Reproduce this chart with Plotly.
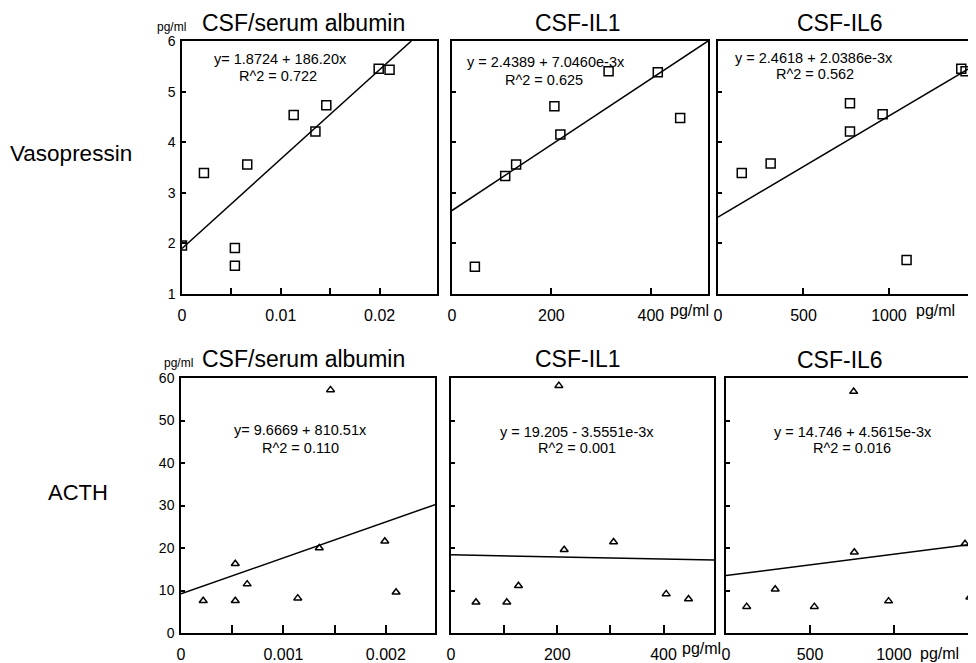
import plotly.graph_objects as go

# ---------------- data ----------------
row_labels = ["Vasopressin", "ACTH"]
col_titles = ["CSF/serum albumin", "CSF-IL1", "CSF-IL6"]

# Vasopressin vs CSF/serum albumin
vp_alb_x = [0.0, 0.00222, 0.00535, 0.00535, 0.0066, 0.0113, 0.0135, 0.0146, 0.0199, 0.0210]
vp_alb_y = [1.96, 3.39, 1.91, 1.56, 3.56, 4.54, 4.21, 4.73, 5.45, 5.43]
# Vasopressin vs CSF-IL1
vp_il1_x = [46, 107, 129, 206, 218, 315, 414, 459]
vp_il1_y = [1.54, 3.33, 3.56, 4.71, 4.15, 5.40, 5.38, 4.48]
# Vasopressin vs CSF-IL6
vp_il6_x = [139, 308, 772, 772, 963, 1103, 1423, 1448]
vp_il6_y = [3.39, 3.58, 4.77, 4.21, 4.55, 1.67, 5.45, 5.40]

# ACTH vs CSF/serum albumin
acth_alb_x = [0.000217, 0.00053, 0.00053, 0.000646, 0.00114, 0.00135, 0.00146, 0.00199, 0.0021]
acth_alb_y = [7.6, 16.3, 7.6, 11.5, 8.2, 20.0, 57.2, 21.6, 9.6]
# ACTH vs CSF-IL1
acth_il1_x = [47, 105, 127, 203, 213, 306, 405, 447]
acth_il1_y = [7.25, 7.25, 11.1, 58.2, 19.6, 21.4, 9.2, 8.0]
# ACTH vs CSF-IL6
acth_il6_x = [123, 293, 526, 760, 764, 968, 1423, 1452]
acth_il6_y = [6.2, 10.3, 6.2, 56.8, 19.0, 7.5, 21.0, 8.4]

# regression lines as drawn (end points)
fit_vp_alb = ([0, 0.0232], [1.90, 6.0])
fit_vp_il1 = ([0, 515], [2.65, 6.0])
fit_vp_il6 = ([0, 1556], [2.52, 5.63])
fit_acth_alb = ([0, 0.00248], [9.2, 30.2])
fit_acth_il1 = ([0, 495], [18.4, 17.2])
fit_acth_il6 = ([0, 1536], [13.5, 21.24])

equations = [
    ["y= 1.8724 + 186.20x", "y = 2.4389 + 7.0460e-3x", "y = 2.4618 + 2.0386e-3x"],
    ["y= 9.6669 + 810.51x", "y = 19.205 - 3.5551e-3x", "y = 14.746 + 4.5615e-3x"],
]
r2_texts = [
    ["R^2 = 0.722", "R^2 = 0.625", "R^2 = 0.562"],
    ["R^2 = 0.110", "R^2 = 0.001", "R^2 = 0.016"],
]

# tick values / labels
vp_y_ticks = [1, 2, 3, 4, 5, 6]
acth_y_ticks = [0, 10, 20, 30, 40, 50, 60]
alb_vp_xticks = [0, 0.005, 0.01, 0.015, 0.02]
alb_vp_xtext = ["0", "", "0.01", "", "0.02"]
alb_acth_xticks = [0, 0.0005, 0.001, 0.0015, 0.002]
alb_acth_xtext = ["0", "", "0.001", "", "0.002"]
il1_vp_xticks = [0, 200, 400]
il1_vp_xtext = ["0", "200", "400"]
il1_acth_xticks = [0, 100, 200, 300, 400]
il1_acth_xtext = ["0", "", "200", "", "400"]
il6_xticks = [0, 500, 1000]
il6_xtext = ["0", "500", "1000"]

# ---------------- layout helpers ----------------
W, H = 976, 663
OFF = 8  # page body margin: the figure is drawn 8 px right/down in the window
FONT = "Liberation Sans, Arial, Helvetica, sans-serif"


def fx(p):
    return (p - OFF) / W


def fy(p):
    return 1 - (p - OFF) / H


panels = [
    dict(r=0, c=0, x=vp_alb_x, y=vp_alb_y, fit=fit_vp_alb, xd=(182, 437), yd=(41, 294),
         xr=[0, 0.0258], yr=[1, 6], xt=alb_vp_xticks, xtt=alb_vp_xtext, yt=vp_y_ticks, right=False),
    dict(r=0, c=1, x=vp_il1_x, y=vp_il1_y, fit=fit_vp_il1, xd=(452, 708), yd=(41, 294),
         xr=[0, 515], yr=[1, 6], xt=il1_vp_xticks, xtt=il1_vp_xtext, yt=vp_y_ticks[1:-1], right=False),
    dict(r=0, c=2, x=vp_il6_x, y=vp_il6_y, fit=fit_vp_il6, xd=(718, 984), yd=(41, 294),
         xr=[0, 1556], yr=[1, 6], xt=il6_xticks, xtt=il6_xtext, yt=vp_y_ticks[1:-1], right=True),
    dict(r=1, c=0, x=acth_alb_x, y=acth_alb_y, fit=fit_acth_alb, xd=(181, 435), yd=(378, 633),
         xr=[0, 0.00248], yr=[0, 60], xt=alb_acth_xticks, xtt=alb_acth_xtext, yt=acth_y_ticks, right=False),
    dict(r=1, c=1, x=acth_il1_x, y=acth_il1_y, fit=fit_acth_il1, xd=(451, 714), yd=(378, 633),
         xr=[0, 495], yr=[0, 60], xt=il1_acth_xticks, xtt=il1_acth_xtext, yt=acth_y_ticks[1:-1], right=False),
    dict(r=1, c=2, x=acth_il6_x, y=acth_il6_y, fit=fit_acth_il6, xd=(726, 984), yd=(378, 633),
         xr=[0, 1536], yr=[0, 60], xt=il6_xticks, xtt=il6_xtext, yt=acth_y_ticks[1:-1], right=True),
]

fig = go.Figure()
layout = {}

for i, p in enumerate(panels, start=1):
    xa = "x" if i == 1 else f"x{i}"
    ya = "y" if i == 1 else f"y{i}"
    symbol = "square-open" if p["r"] == 0 else "triangle-up-open"
    msize = 9 if p["r"] == 0 else 7
    fig.add_trace(go.Scatter(
        x=p["x"], y=p["y"], mode="markers", xaxis=xa, yaxis=ya,
        marker=dict(symbol=symbol, size=msize, color="black", line=dict(color="black", width=1.5)),
        hoverinfo="skip"))
    fig.add_trace(go.Scatter(
        x=p["fit"][0], y=p["fit"][1], mode="lines", xaxis=xa, yaxis=ya,
        line=dict(color="black", width=1.5), hoverinfo="skip"))

    left_col = p["c"] == 0
    layout["xaxis" if i == 1 else f"xaxis{i}"] = dict(
        domain=[fx(p["xd"][0]), min(fx(p["xd"][1]), 1.0)], anchor=ya, range=p["xr"], automargin=False,
        showline=True, linecolor="black", linewidth=1.5, mirror=True,
        showgrid=False, zeroline=False,
        tickmode="array", tickvals=p["xt"], ticktext=p["xtt"],
        ticks="inside", ticklen=6 if p["r"] == 0 else 8, tickwidth=1.5, tickcolor="black",
        tickfont=dict(family=FONT, size=16, color="black"), ticklabelstandoff=6,
    )
    layout["yaxis" if i == 1 else f"yaxis{i}"] = dict(
        domain=[fy(p["yd"][1]), fy(p["yd"][0])], anchor=xa, range=p["yr"], automargin=False,
        showline=True, linecolor="black", linewidth=1.5, mirror=not p["right"],
        showgrid=False, zeroline=False,
        tickmode="array", tickvals=p["yt"], showticklabels=left_col,
        ticks="inside", ticklen=4, tickwidth=1.5, tickcolor="black",
        tickfont=dict(family=FONT, size=14, color="black"), ticklabelstandoff=2,
    )

annotations = []


def add_text(text, x, y, size, xanchor="center", yanchor="middle"):
    annotations.append(dict(text=text, x=fx(x), y=min(fy(y), 1.0), xref="paper", yref="paper",
                            xanchor=xanchor, yanchor=yanchor, showarrow=False,
                            font=dict(family=FONT, size=size, color="black")))


# column titles (top row hangs from the top edge of the figure)
title_x = [303, 578, 840]
bottom_title_y = [359, 359, 360]
for c in range(3):
    add_text(col_titles[c], title_x[c], OFF, 23, yanchor="top")
    add_text(col_titles[c], title_x[c], bottom_title_y[c], 23)

# row labels
add_text(row_labels[0], 71, 153, 22.5)
add_text(row_labels[1], 78, 492, 22)

# pg/ml units on y axes
add_text("pg/ml", 171, 27, 12)
add_text("pg/ml", 178, 363, 12)

# units on x axes
add_text("pg/ml", 668, 311, 16, "left")
add_text("pg/ml", 914, 311, 16, "left")
add_text("pg/ml", 680, 648, 16, "left")
add_text("pg/ml", 918, 653, 16, "left")

# equations
eq_pos = [[(280, 59, 278, 76), (546, 62, 544, 80), (814, 58, 815, 74)],
          [(300, 430, 300, 448), (577, 432, 577, 448), (853, 432, 852, 448)]]
for r in range(2):
    for c in range(3):
        ex, ey, rx, ry = eq_pos[r][c]
        add_text(equations[r][c], ex, ey, 14.5)
        add_text(r2_texts[r][c], rx, ry, 14.5)

fig.update_layout(
    width=W, height=H, margin=dict(l=0, r=0, t=0, b=0, pad=0, autoexpand=False),
    paper_bgcolor="white", plot_bgcolor="white", showlegend=False,
    annotations=annotations, **layout)

fig.write_html("out.html")
